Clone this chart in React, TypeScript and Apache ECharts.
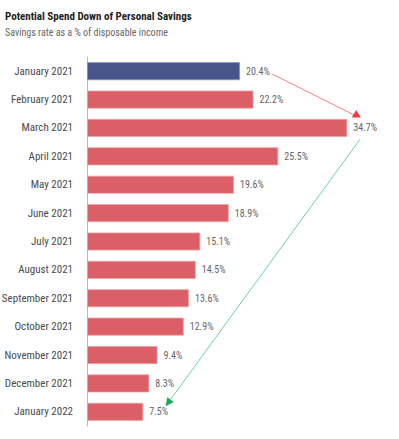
import React, { useEffect, useRef } from "react";
import * as echarts from "echarts";

const categories = [
  "January 2021", "February 2021", "March 2021", "April 2021", "May 2021", "June 2021",
  "July 2021", "August 2021", "September 2021", "October 2021", "November 2021",
  "December 2021", "January 2022",
];
const savingsRate = [20.4, 22.2, 34.7, 25.5, 19.6, 18.9, 15.1, 14.5, 13.6, 12.9, 9.4, 8.3, 7.5];
const highlightIndex = 0;
// arrow annotations in data space: [value, category position]
const riseArrow = [[24.7, 0.1], [35.9, 1.58]];
const fallArrow = [[36.4, 2.4], [10.5, 11.8]];

const FONT = "'Roboto Condensed', 'Roboto', sans-serif";

export default function App() {
  const ref = useRef<HTMLDivElement>(null);
  useEffect(() => {
    document.body.style.margin = "0";
    const chart = echarts.init(ref.current!, null, { renderer: "svg" });
    chart.setOption({
      animation: false,
      title: [
        { text: "Potential Spend Down of Personal Savings", left: 0, top: 6,
          textStyle: { fontFamily: FONT, fontSize: 11, fontWeight: "bold", color: "#222" } },
        { text: "Savings rate as a % of disposable income", left: 0, top: 22,
          textStyle: { fontFamily: FONT, fontSize: 10, fontWeight: "normal", color: "#666" } },
      ],
      grid: { left: 87, right: 12, top: 57, bottom: 13, containLabel: false, outerBoundsMode: "none" },
      xAxis: { type: "value", min: 0, max: 40, show: false },
      yAxis: {
        type: "category", data: categories, inverse: true,
        axisLine: { show: true, lineStyle: { color: "#bbb", width: 1 } },
        axisTick: { show: false },
        axisLabel: { margin: 14, fontFamily: FONT, fontSize: 11, color: "#4a4a4a" },
      },
      series: [{
        type: "bar",
        data: savingsRate.map((v, i) => ({
          value: v,
          itemStyle: {
            color: i === highlightIndex ? "#46558A" : "#DA5F67",
            borderColor: i === highlightIndex ? "#8E97BA" : "#EDA3A8",
          },
        })),
        barWidth: 18,
        itemStyle: { borderWidth: 0.8 },
        label: {
          show: true, position: "right", distance: 6,
          formatter: (p: any) => p.value.toFixed(1) + "%",
          fontFamily: FONT, fontSize: 10, color: "#666",
        },
      }],
    });
    const toPx = (pt: number[]) => {
      const x = chart.convertToPixel({ xAxisIndex: 0 }, pt[0]) as number;
      const i0 = Math.floor(pt[1]);
      const y0 = chart.convertToPixel({ yAxisIndex: 0 }, i0) as number;
      const y1 = chart.convertToPixel({ yAxisIndex: 0 }, i0 + 1) as number;
      return [x, y0 + (pt[1] - i0) * (y1 - y0)];
    };
    const arrow = (pts: number[][], lineColor: string, headColor: string, upright: boolean) => {
      const [a, b] = pts.map(toPx);
      const ang = Math.atan2(b[1] - a[1], b[0] - a[0]);
      const L = 8, W = 4;
      const bx = b[0] - L * Math.cos(ang), by = b[1] - L * Math.sin(ang);
      const nx = -Math.sin(ang) * W, ny = Math.cos(ang) * W;
      const head = upright
        ? [[b[0], b[1] - 6], [b[0] - 4.5, b[1] + 1.5], [b[0] + 4.5, b[1] + 1.5]]
        : [[b[0], b[1]], [bx + nx, by + ny], [bx - nx, by - ny]];
      return [
        { type: "line", silent: true,
          shape: upright ? { x1: a[0], y1: a[1], x2: b[0], y2: b[1] } : { x1: a[0], y1: a[1], x2: bx, y2: by },
          style: { stroke: lineColor, lineWidth: 1 } },
        { type: "polygon", silent: true, shape: { points: head }, style: { fill: headColor } },
      ];
    };
    chart.setOption({
      graphic: [
        ...arrow(riseArrow, "#F47C84", "#EE3B47", true),
        ...arrow(fallArrow, "#6DD39C", "#18A85A", false),
      ],
    });
    return () => chart.dispose();
  }, []);
  return <div ref={ref} style={{ width: 399, height: 439 }} />;
}
